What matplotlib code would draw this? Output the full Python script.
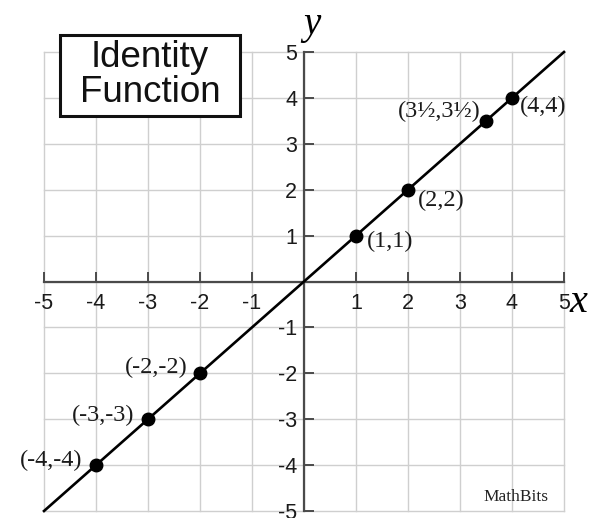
"""plot.py: identity function y = x on a coordinate grid"""

import matplotlib
matplotlib.use("Agg")
import matplotlib.pyplot as plt
from matplotlib.patches import Rectangle

# data
line_x = [-5, 5]
line_y = [-5, 5]
point_x = [-4, -3, -2, 1, 2, 3.5, 4]
point_y = [-4, -3, -2, 1, 2, 3.5, 4]
point_labels = ["(-4,-4)", "(-3,-3)", "(-2,-2)", "(1,1)", "(2,2)",
                "(3\u00bd,3\u00bd)", "(4,4)"]
tick_values = [-5, -4, -3, -2, -1, 1, 2, 3, 4, 5]
tick_labels = ["-5", "-4", "-3", "-2", "-1", "1", "2", "3", "4", "5"]
grid_values = [-5, -4, -3, -2, -1, 0, 1, 2, 3, 4, 5]
title = "Identity\nFunction"

# label offsets in points (dx, dy, ha)
label_offsets = [(-10, 3, "right"), (-10, 3, "right"), (-9, 4.5, "right"),
                 (8, -4.5, "left"), (7, -8, "left"), (-4, 6.5, "right"),
                 (6, -6.5, "left")]

fig = plt.figure(figsize=(5.97, 5.18), dpi=100)
ax = fig.add_axes([44 / 597, 7 / 518, 520 / 597, 459 / 518])
ax.set_xlim(-5, 5)
ax.set_ylim(-5, 5)

# grid
for g in grid_values:
    ax.axvline(g, color="#cfcfcf", lw=1.0, zorder=0, clip_on=False)
    ax.axhline(g, color="#cfcfcf", lw=1.0, zorder=0, clip_on=False)

# axes through origin
ax.spines["left"].set_position(("data", 0))
ax.spines["bottom"].set_position(("data", 0))
ax.spines["right"].set_visible(False)
ax.spines["top"].set_visible(False)
for s in ("left", "bottom"):
    ax.spines[s].set_color("#4a4a4a")
    ax.spines[s].set_linewidth(1.6)
    ax.spines[s].set_zorder(1)

ax.set_xticks(tick_values)
ax.set_xticklabels(tick_labels)
ax.set_yticks(tick_values)
ax.set_yticklabels(tick_labels)
ax.tick_params(axis="both", direction="in", length=7, width=1.4,
               color="#4a4a4a", labelsize=15.5, labelcolor="#1a1a1a")
ax.tick_params(axis="x", pad=8)
ax.tick_params(axis="y", pad=5)
for lbl in ax.get_xticklabels() + ax.get_yticklabels():
    lbl.set_family("Liberation Sans")

# the line and points
ax.plot(line_x, line_y, color="black", lw=1.9, zorder=3, clip_on=False)
ax.plot(point_x, point_y, "o", color="black", ms=9, zorder=4, clip_on=False)

for px, py, lab, (dx, dy, ha) in zip(point_x, point_y, point_labels, label_offsets):
    ax.annotate(lab, (px, py), xytext=(dx, dy), textcoords="offset points",
                ha=ha, va="center", fontsize=17.5, family="Liberation Serif",
                color="#1a1a1a", zorder=5)

# axis names
ax.text(5.1, -0.45, "x", fontsize=29, family="Liberation Serif", style="italic",
        ha="left", va="center", clip_on=False)
ax.text(0.15, 5.6, "y", fontsize=28, family="Liberation Serif", style="italic",
        ha="center", va="center", clip_on=False)

# title box
ax.add_patch(Rectangle((0.031, 0.861), 0.346, 0.176, transform=ax.transAxes,
                       fc="white", ec="#111111", lw=2.2, zorder=6, clip_on=False))
ax.text(0.204, 0.949, title, transform=ax.transAxes, fontsize=26.5,
        family="Liberation Sans", ha="center", va="center", linespacing=1.0,
        zorder=7, color="#111111")

ax.text(4.08, -4.7, "MathBits", fontsize=12.5, family="Liberation Serif",
        color="#222222", ha="center", va="center")

fig.savefig("out.png", dpi=100)
